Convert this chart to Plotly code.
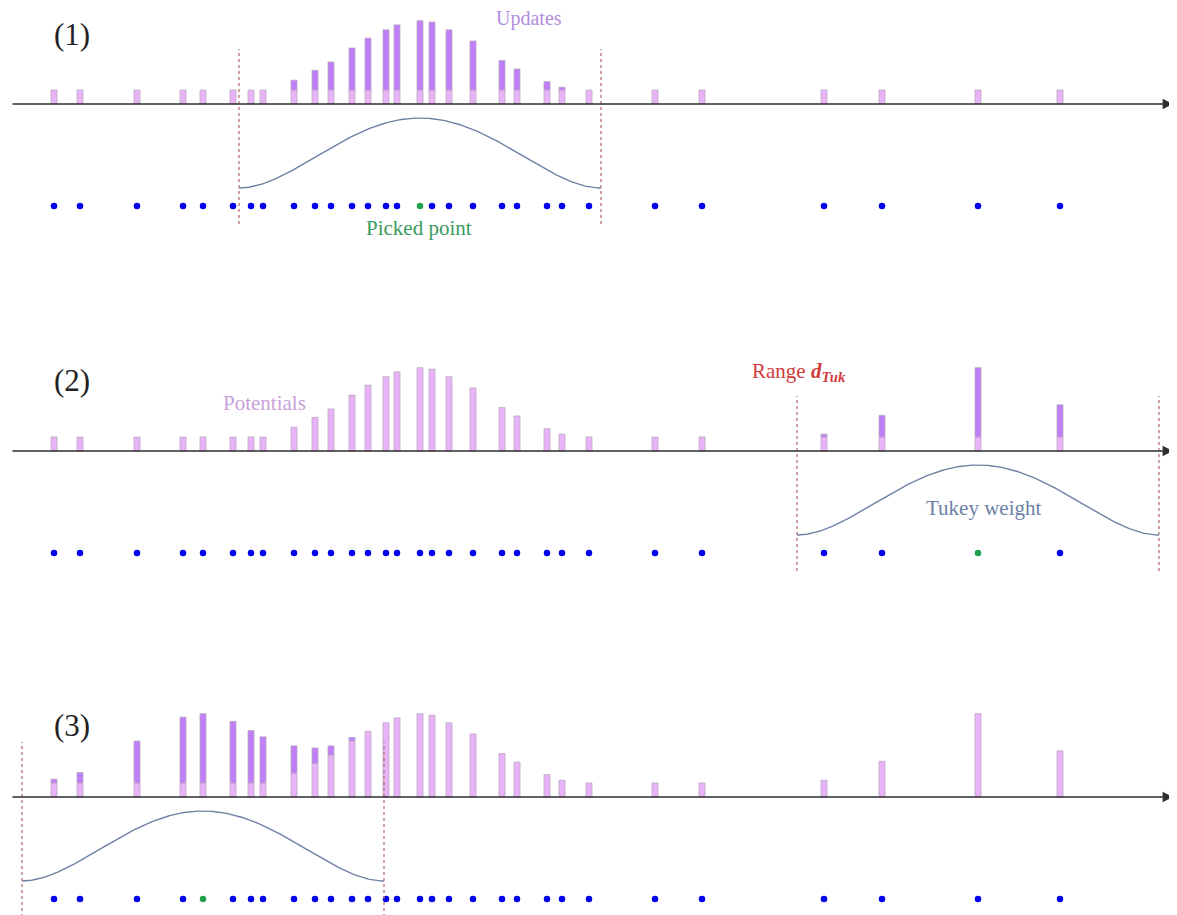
import numpy as np
import plotly.graph_objects as go

# ---- data ----
positions = [5.4, 8.0, 13.7, 18.3, 20.3, 23.3, 25.1, 26.3, 29.4, 31.5, 33.1, 35.2,
             36.8, 38.6, 39.7, 42.0, 43.2, 44.9, 47.3, 50.2, 51.7, 54.7, 56.2, 58.9,
             65.5, 70.2, 82.4, 88.2, 97.8, 106.0]
base_potential = [1.0] * len(positions)
updates_1 = [0, 0, 0, 0, 0, 0, 0, 0, 0.7, 1.4, 2.0, 3.0, 3.7, 4.3, 4.65, 4.95,
             4.85, 4.3, 3.5, 2.1, 1.5, 0.6, 0.2, 0, 0, 0, 0, 0, 0, 0]
updates_2 = [0] * 26 + [0.2, 1.55, 4.95, 2.3]
updates_3 = [0.27, 0.75, 3.0, 4.7, 4.95, 4.4, 3.75, 3.3, 1.95, 1.1, 0.65, 0.25] + [0] * 18
picked = [15, 28, 4]
d_tuk = 18.1
panel_labels = ["(1)", "(2)", "(3)"]
axis_extent = [1.1, 117.3]

pot1 = np.array(base_potential)
pot2 = pot1 + np.array(updates_1)
pot3 = pot2 + np.array(updates_2)
panels = [(pot1, np.array(updates_1)), (pot2, np.array(updates_2)), (pot3, np.array(updates_3))]

# ---- style ----
LIGHT = "#e9b3fa"
DARK = "#c07ef9"
EDGE = "#b9a8bf"
BLUE = "#0000ee"
GREEN = "#22a04e"
CURVE = "#6e80a4"
DASH = "#b87272"
FONT = "Liberation Serif"

OFF = 8            # page body margin in the browser
W, H = 1177 - OFF, 915 - OFF
# screen-pixel layout of each panel: (top, axis, bottom)
layout_px = [(0, 104, 260), (330, 451, 600), (680, 797, 915)]
UNIT = 14.0

fig = go.Figure()
yaxes = {}
for k, (top, axis_px, bot) in enumerate(layout_px):
    name = "yaxis" if k == 0 else f"yaxis{k+1}"
    t = max(top - OFF, 0)
    b = min(bot - OFF, H)
    yaxes[name] = dict(domain=[1 - b / H, 1 - t / H],
                       range=[-(b + OFF - axis_px) / UNIT, (axis_px - t - OFF) / UNIT],
                       visible=False, fixedrange=True)

for k, (pot, upd) in enumerate(panels):
    yref = "y" if k == 0 else f"y{k+1}"
    x = np.array(positions)
    fig.add_trace(go.Bar(x=x, y=pot, base=0, width=0.6, yaxis=yref,
                         marker=dict(color=LIGHT, line=dict(color=EDGE, width=0.8)),
                         showlegend=False, hoverinfo="skip"))
    m = upd > 0
    fig.add_trace(go.Bar(x=x[m], y=upd[m], base=pot[m], width=0.6, yaxis=yref,
                         marker=dict(color=DARK, line=dict(color=EDGE, width=0.8)),
                         showlegend=False, hoverinfo="skip"))
    # Tukey weight curve
    c = positions[picked[k]]
    xc = np.linspace(c - d_tuk, c + d_tuk, 300)
    u = (xc - c) / d_tuk
    w = (1 - u ** 2) ** 2
    fig.add_trace(go.Scatter(x=xc, y=-6 + 5 * w, mode="lines", yaxis=yref,
                             line=dict(color=CURVE, width=1.4),
                             showlegend=False, hoverinfo="skip"))
    # points
    cols = [GREEN if i == picked[k] else BLUE for i in range(len(positions))]
    fig.add_trace(go.Scatter(x=positions, y=[-7.29] * len(positions), mode="markers",
                             yaxis=yref, marker=dict(color=cols, size=6.5),
                             showlegend=False, hoverinfo="skip"))
    # dashed range lines
    for xe in (c - d_tuk, c + d_tuk):
        fig.add_shape(type="line", xref="x", yref=yref, x0=xe, x1=xe, y0=-8.57, y1=3.93,
                      line=dict(color=DASH, width=1.3, dash="3px,3px"))
    # axis line with arrow head
    fig.add_annotation(x=axis_extent[1], y=0, ax=axis_extent[0], ay=0, xref="x",
                       yref=yref, axref="x", ayref=yref, showarrow=True, text="",
                       arrowhead=2, arrowsize=1.6, arrowwidth=1.3, standoff=0,
                       arrowcolor="#2e2e2e")
    fig.add_annotation(x=7.2, y=[4.93, 5.07, 5.14][k], xref="x", yref=yref,
                       text=panel_labels[k], showarrow=False,
                       font=dict(family=FONT, size=31, color="#222222"))

texts = [
    ("Updates", 52.9, 6.1, "y", "#b28ede", 20),
    ("Picked point", 41.9, -8.86, "y", "#3a9a5e", 21),
    ("Potentials", 26.4, 3.43, "y2", "#c79fd9", 21),
    ("Range <b><i>d</i><sub><i>Tuk</i></sub></b>", 79.9, 5.64, "y2", "#d13b3b", 21),
    ("Tukey weight", 98.3, -4.07, "y2", "#6a7fa8", 21),
]
for t, xv, yv, yr, col, sz in texts:
    fig.add_annotation(x=xv, y=yv, xref="x", yref=yr, text=t, showarrow=False,
                       font=dict(family=FONT, size=sz, color=col))

fig.update_layout(
    width=W, height=H, margin=dict(l=0, r=0, t=0, b=0),
    paper_bgcolor="white", plot_bgcolor="white", barmode="overlay",
    xaxis=dict(range=[OFF / 10, OFF / 10 + W / 10], domain=[0, 1], visible=False,
               fixedrange=True),
    **yaxes,
)
fig.write_html("out.html", config={"displayModeBar": False})
